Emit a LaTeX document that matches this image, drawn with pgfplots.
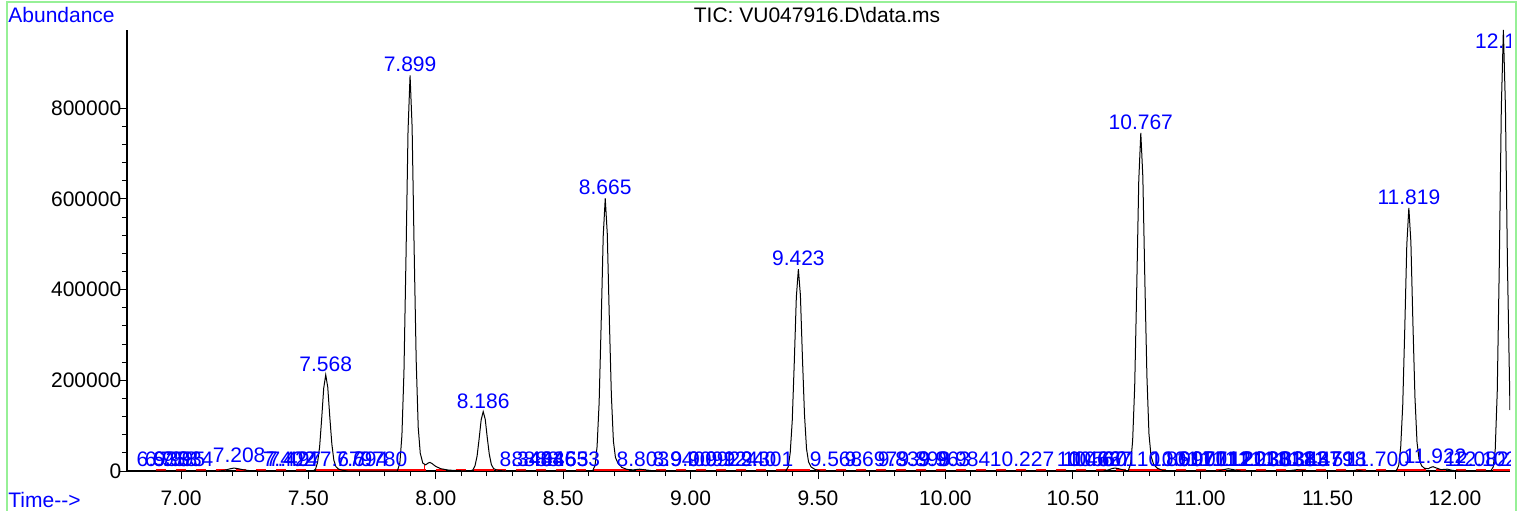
\documentclass[border=0pt]{standalone}
\usepackage{fontspec}
\setmainfont{Liberation Sans}
\usepackage{pgfplots}
\pgfplotsset{compat=1.18}
\definecolor{lblue}{RGB}{0,0,255}
\definecolor{lgreen}{RGB}{150,240,150}
\tikzset{
  pk/.style={text=lblue, anchor=base, inner sep=0pt, yshift=1.7pt},
  bl/.style={text=lblue, anchor=base, inner sep=0pt, yshift=2.2pt}
}
\begin{document}
\fontsize{10.5}{12.6}\selectfont
\begin{tikzpicture}
\useasboundingbox (-63.5pt,-19.5pt) rectangle (699.5pt,235.5pt);
\clip (-63.5pt,-19.5pt) rectangle (699.5pt,235.5pt);
\draw[lgreen, line width=0.9pt] (-60pt,-30pt) -- (-60pt,234.5pt) -- (694.5pt,234.5pt) -- (694.5pt,-30pt);
\begin{axis}[
  at={(0pt,0pt)}, anchor=south west,
  scale only axis, width=691.5pt, height=220.5pt,
  xmin=6.788, xmax=12.216, ymin=0, ymax=972000,
  axis lines*=left, axis line style={line width=0.6pt},
  tick align=outside, major tick length=4pt, minor tick length=2.5pt,
  tick style={black, line width=0.4pt},
  xtick={7,7.5,8,8.5,9,9.5,10,10.5,11,11.5,12}, minor x tick num=4,
  ytick={0,200000,400000,600000,800000}, minor y tick num=4,
  scaled y ticks=false, scaled x ticks=false,
  /pgf/number format/assume math mode=true,
  xticklabel={\pgfmathprintnumber[fixed,fixed zerofill,precision=2,assume math mode=true]{\tick}},
  yticklabel={\pgfmathprintnumber[fixed,precision=0,1000 sep={},assume math mode=true]{\tick}},
  xticklabel style={anchor=north, inner sep=0pt, yshift=-5.5pt},
  yticklabel style={anchor=east, inner sep=0pt, xshift=1.3pt},
]
% integration baseline
\addplot[red, line width=0.6pt, dash pattern=on 5pt off 5pt, yshift=0.5pt] coordinates {(6.90,0) (12.216,0)};
\addplot[red, line width=0.6pt, yshift=0.5pt, unbounded coords=jump] coordinates {
(7.54,0) (7.96,0) (nan,nan) (8.15,0) (8.23,0) (nan,nan) (8.62,0) (8.76,0) (nan,nan)
(9.38,0) (9.47,0) (nan,nan) (10.72,0) (10.83,0) (nan,nan) (11.77,0) (11.87,0) (nan,nan) (12.15,0) (12.216,0)};
\addplot[red, line width=0.5pt] coordinates {(7.957,0) (7.957,14000)};
% TIC trace
\addplot[black, line width=0.5pt] coordinates {
(6.788,0) (7.15,0) (7.17,1500) (7.19,4500) (7.208,6500) (7.225,5000) (7.245,2500) (7.27,800) (7.30,0)
(7.518,0) (7.528,4200) (7.536,19000) (7.544,53000) (7.552,114500) (7.560,182300) (7.568,212000) (7.576,184400) (7.584,118700) (7.592,59400) (7.600,23300) (7.608,9500) (7.618,4200) (7.633,1700) (7.653,0)
(7.849,0) (7.859,17400) (7.867,78500) (7.875,218000) (7.883,470900) (7.891,749900) (7.899,872000) (7.907,758600) (7.915,488300) (7.923,244200) (7.931,95900) (7.939,39200) (7.949,17400) (7.960,13500) (7.970,17500) (7.977,19000) (7.985,16500) (8.000,10000) (8.020,5000) (8.050,2000) (8.100,500) (8.130,0)
(8.136,0) (8.146,2600) (8.154,11800) (8.162,32750) (8.170,70700) (8.178,112700) (8.186,131000) (8.194,114000) (8.202,73400) (8.210,36700) (8.218,14400) (8.226,5900) (8.236,2600) (8.251,1000) (8.271,0)
(8.615,0) (8.625,12000) (8.633,54100) (8.641,150250) (8.649,324500) (8.657,516900) (8.665,601000) (8.673,522900) (8.681,336600) (8.689,168300) (8.697,66100) (8.705,30000) (8.715,17000) (8.730,8000) (8.750,3500) (8.775,2500) (8.800,4000) (8.820,2500) (8.850,800) (8.880,0)
(9.373,0) (9.383,8900) (9.391,40000) (9.399,111250) (9.407,240300) (9.415,382700) (9.423,445000) (9.431,387150) (9.439,249200) (9.447,124600) (9.455,48950) (9.463,20000) (9.473,8900) (9.488,3500) (9.508,0)
(10.62,0) (10.64,2500) (10.655,5500) (10.666,6600) (10.68,5000) (10.70,2000) (10.717,0)
(10.727,14900) (10.735,67050) (10.743,186250) (10.751,402300) (10.759,640700) (10.767,745000) (10.775,648150) (10.783,417200) (10.791,208600) (10.799,81950) (10.807,33500) (10.817,14900) (10.832,6000) (10.852,1500) (10.880,0)
(11.07,0) (11.09,2500) (11.11,5000) (11.13,3000) (11.16,0)
(11.34,0) (11.38,3000) (11.42,0)
(11.59,0) (11.615,2000) (11.64,0)
(11.769,0) (11.779,11600) (11.787,52200) (11.795,145000) (11.803,313200) (11.811,498800) (11.819,580000) (11.827,504600) (11.835,324800) (11.843,162400) (11.851,63800) (11.859,26100) (11.869,11600) (11.880,6000) (11.895,5000) (11.905,8000) (11.914,9500) (11.925,7000) (11.945,3000) (11.970,4000) (11.990,1500) (12.010,0)
(12.140,0) (12.150,8600) (12.158,47000) (12.166,176000) (12.174,455000) (12.182,802000) (12.190,972000) (12.198,804000) (12.206,456000) (12.216,134000)
};
% peak labels
\node[pk] at (axis cs:7.568,212000) {7.568};
\node[pk] at (axis cs:7.899,872000) {7.899};
\node[pk] at (axis cs:8.186,131000) {8.186};
\node[pk] at (axis cs:8.665,601000) {8.665};
\node[pk] at (axis cs:9.423,445000) {9.423};
\node[pk] at (axis cs:10.767,745000) {10.767};
\node[pk] at (axis cs:11.819,580000) {11.819};
\node[text=lblue, anchor=base, inner sep=0pt] at (axis cs:12.205,932000) {12.192};
% baseline labels
\node[bl] at (axis cs:6.929,0) {6.938};
\node[bl] at (axis cs:6.961,0) {6.958};
\node[bl] at (axis cs:6.992,0) {6.995};
\node[bl] at (axis cs:7.024,0) {7.034};
\node[bl, yshift=2.3pt] at (axis cs:7.228,0) {7.208};
\node[bl] at (axis cs:7.424,0) {7.402};
\node[bl] at (axis cs:7.436,0) {7.424};
\node[bl] at (axis cs:7.447,0) {7.497};
\node[bl] at (axis cs:7.648,0) {7.679};
\node[bl] at (axis cs:7.710,0) {7.694};
\node[bl] at (axis cs:7.785,0) {7.780};
\node[bl] at (axis cs:8.354,0) {8.343};
\node[bl] at (axis cs:8.401,0) {8.404};
\node[bl] at (axis cs:8.448,0) {8.436};
\node[bl] at (axis cs:8.495,0) {8.465};
\node[bl] at (axis cs:8.542,0) {8.533};
\node[bl] at (axis cs:8.813,0) {8.803};
\node[bl] at (axis cs:8.954,0) {8.940};
\node[bl] at (axis cs:9.025,0) {9.009};
\node[bl] at (axis cs:9.092,0) {9.092};
\node[bl] at (axis cs:9.162,0) {9.124};
\node[bl] at (axis cs:9.233,0) {9.240};
\node[bl] at (axis cs:9.300,0) {9.301};
\node[bl] at (axis cs:9.571,0) {9.568};
\node[bl] at (axis cs:9.708,0) {9.697};
\node[bl] at (axis cs:9.838,0) {9.839};
\node[bl] at (axis cs:9.916,0) {9.898};
\node[bl] at (axis cs:9.995,0) {9.963};
\node[bl] at (axis cs:10.073,0) {9.984};
\node[bl] at (axis cs:10.301,0) {10.227};
\node[bl] at (axis cs:10.564,0) {10.466};
\node[bl] at (axis cs:10.587,0) {10.560};
\node[bl] at (axis cs:10.607,0) {10.627};
\node[bl] at (axis cs:10.626,0) {10.671};
\node[bl] at (axis cs:10.878,0) {10.861};
\node[bl] at (axis cs:10.930,0) {10.907};
\node[bl] at (axis cs:10.980,0) {10.970};
\node[bl] at (axis cs:11.030,0) {11.071};
\node[bl] at (axis cs:11.080,0) {11.112};
\node[bl] at (axis cs:11.130,0) {11.121};
\node[bl] at (axis cs:11.180,0) {11.201};
\node[bl] at (axis cs:11.230,0) {11.238};
\node[bl] at (axis cs:11.280,0) {11.301};
\node[bl] at (axis cs:11.330,0) {11.338};
\node[bl] at (axis cs:11.380,0) {11.383};
\node[bl] at (axis cs:11.430,0) {11.437};
\node[bl] at (axis cs:11.480,0) {11.479};
\node[bl] at (axis cs:11.530,0) {11.518};
\node[bl] at (axis cs:11.700,0) {11.700};
\node[bl, yshift=1.5pt] at (axis cs:11.922,0) {11.922};
\node[bl] at (axis cs:12.085,0) {12.082};
\node[bl] at (axis cs:12.118,0) {12.102};
\end{axis}
\node[anchor=base, inner sep=0pt] at (345pt,224.5pt) {TIC: VU047916.D\textbackslash data.ms};
\node[anchor=base west, inner sep=0pt, text=lblue] at (-59.5pt,224.5pt) {Abundance};
\node[anchor=base west, inner sep=0pt, text=lblue] at (-59.5pt,-18pt) {Time-{}-{}>};
\end{tikzpicture}
\end{document}
